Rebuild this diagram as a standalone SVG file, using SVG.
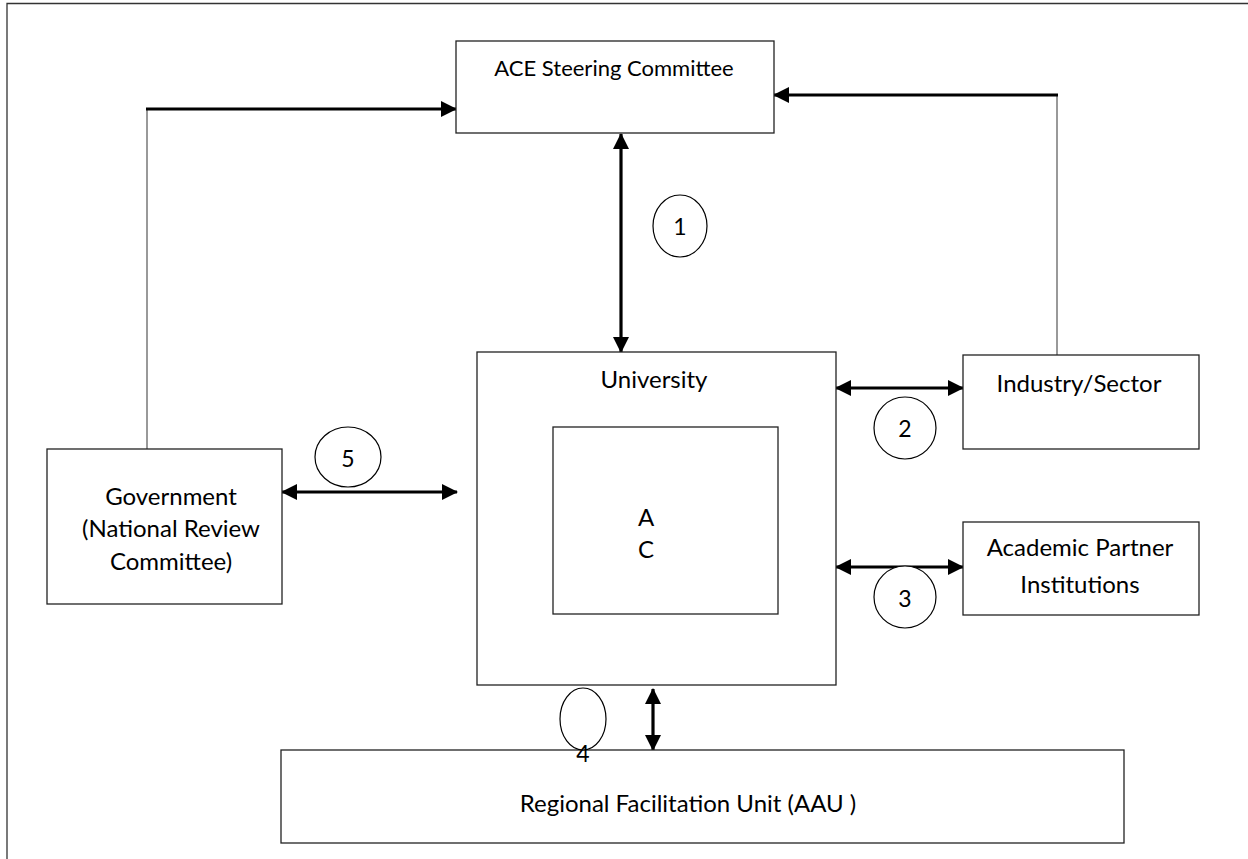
<svg xmlns="http://www.w3.org/2000/svg" width="1248" height="859" viewBox="0 0 1248 859">
  <style>
    .box { fill: #fff; stroke: #222; stroke-width: 1.3; }
    .lbl { font-family: Lato, "Liberation Sans", sans-serif; font-size: 24px; fill: #000; text-anchor: middle; }
    .title { font-size: 22px; }
    .num { font-size: 23px; }
    .thin { fill: none; stroke: #777; stroke-width: 1.5; }
    .thick { fill: none; stroke: #000; stroke-width: 3.2; }
    .badge { fill: #fff; stroke: #000; stroke-width: 1.2; }
  </style>
  <defs>
    <marker id="head" viewBox="0 0 16 16" refX="15" refY="8" markerWidth="16" markerHeight="16" markerUnits="userSpaceOnUse" orient="auto-start-reverse">
      <path d="M0,0 L16,8 L0,16 Z" fill="#000"/>
    </marker>
  </defs>
  <rect width="1248" height="859" fill="#fff"/>
  <!-- page frame -->
  <path d="M7,859 V3.5 H1248" fill="none" stroke="#333" stroke-width="1.3"/>

  <g id="connectors">
    <!-- Government -> ACE -->
    <path class="thin" d="M147,449 V109"/>
    <path class="thick" d="M146,109 H456" marker-end="url(#head)"/>
    <!-- Industry -> ACE -->
    <path class="thin" d="M1057,355 V95"/>
    <path class="thick" d="M1058,95 H774" marker-end="url(#head)"/>
    <!-- 1: ACE <-> University -->
    <path class="thick" d="M621,134 V352" marker-start="url(#head)" marker-end="url(#head)"/>
    <!-- 2: University <-> Industry -->
    <path class="thick" d="M836,388 H963" marker-start="url(#head)" marker-end="url(#head)"/>
    <!-- 3: University <-> Academic partners -->
    <path class="thick" d="M836,567 H963" marker-start="url(#head)" marker-end="url(#head)"/>
    <!-- 5: Government <-> University -->
    <path class="thick" d="M282,492 H457" marker-start="url(#head)" marker-end="url(#head)"/>
    <!-- 4: University <-> RFU -->
    <path class="thick" d="M653,689 V750" marker-start="url(#head)" marker-end="url(#head)"/>
  </g>

  <g id="ace">
    <rect class="box" x="456" y="41" width="318" height="92"/>
    <text class="lbl title" x="614" y="76">ACE Steering Committee</text>
  </g>

  <g id="university">
    <rect class="box" x="477" y="352" width="359" height="333"/>
    <text class="lbl" x="654" y="388">University</text>
  </g>

  <g id="ac">
    <rect class="box" x="553" y="427" width="225" height="187"/>
    <text class="lbl" x="646" y="526">A</text>
    <text class="lbl" x="646" y="558">C</text>
  </g>

  <g id="industry">
    <rect class="box" x="963" y="355" width="236" height="94"/>
    <text class="lbl" x="1079" y="392">Industry/Sector</text>
  </g>

  <g id="academic">
    <rect class="box" x="963" y="522" width="236" height="93"/>
    <text class="lbl" x="1080" y="556">Academic Partner</text>
    <text class="lbl" x="1080" y="593">Institutions</text>
  </g>

  <g id="government">
    <rect class="box" x="47" y="449" width="235" height="155"/>
    <text class="lbl" x="171" y="505">Government</text>
    <text class="lbl" x="171" y="537">(National Review</text>
    <text class="lbl" x="171" y="570">Committee)</text>
  </g>

  <g id="rfu">
    <rect class="box" x="281" y="750" width="843" height="93"/>
    <text class="lbl" x="688" y="812">Regional Facilitation Unit (AAU )</text>
  </g>

  <g id="badge-1">
    <ellipse class="badge" cx="680" cy="226" rx="27" ry="31"/>
    <text class="lbl num" x="680" y="235">1</text>
  </g>
  <g id="badge-2">
    <ellipse class="badge" cx="905" cy="428" rx="31" ry="31"/>
    <text class="lbl num" x="905" y="437">2</text>
  </g>
  <g id="badge-3">
    <ellipse class="badge" cx="905" cy="597" rx="31" ry="31"/>
    <text class="lbl num" x="905" y="607">3</text>
  </g>
  <g id="badge-5">
    <ellipse class="badge" cx="348" cy="457" rx="33" ry="30"/>
    <text class="lbl num" x="348" y="467">5</text>
  </g>
  <g id="badge-4">
    <ellipse class="badge" cx="583" cy="719" rx="23" ry="31"/>
    <text class="lbl num" x="583" y="762">4</text>
  </g>
</svg>
